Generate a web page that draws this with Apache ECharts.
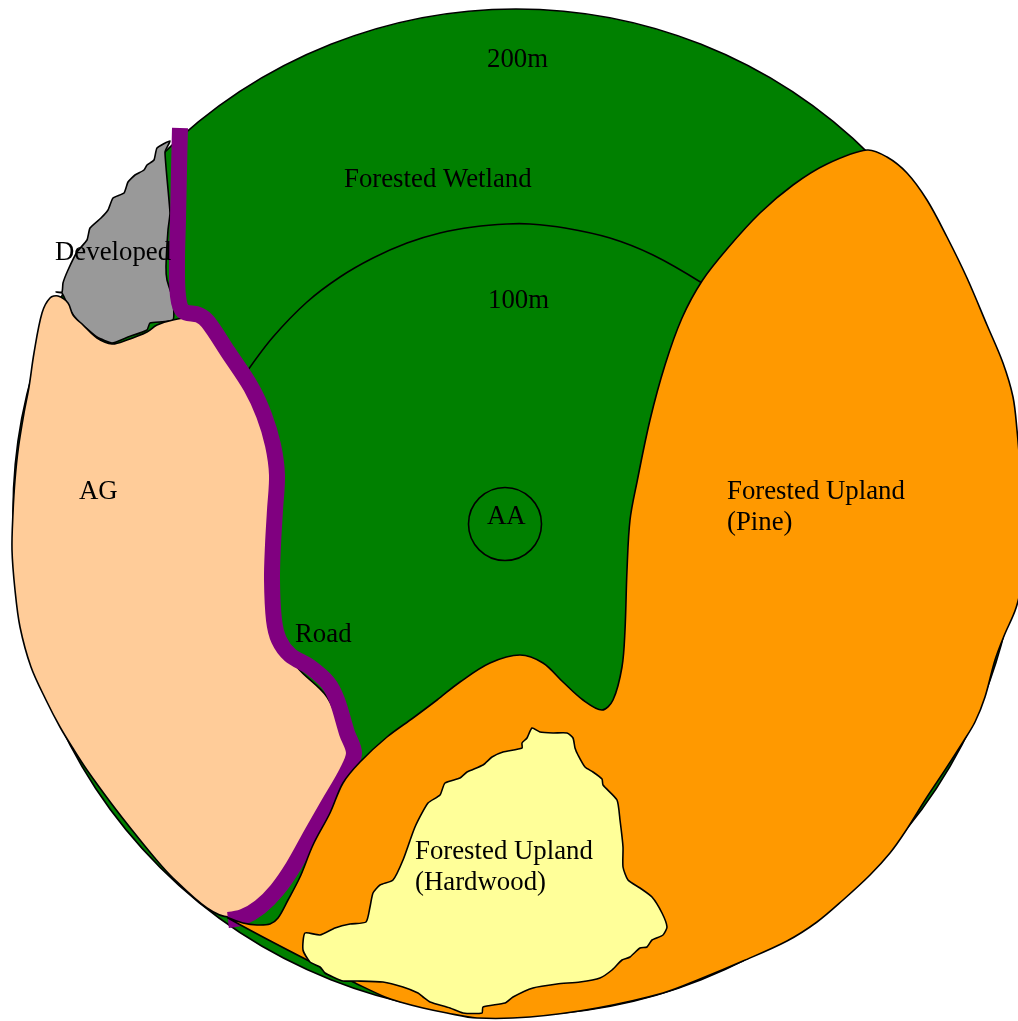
<!DOCTYPE html>
<html>
<head>
<meta charset="utf-8">
<title>Land use around AA</title>
<script src="https://cdn.jsdelivr.net/npm/echarts@6/dist/echarts.min.js"></script>
<style>
  html, body { margin: 0; padding: 0; background: #fff; }
  #chart { width: 1018px; height: 1021px; }
</style>
</head>
<body>
<div id="chart"></div>
<script>
// outlines, [x, y] in picture units
const outerCircle = [516, 512, 503]
const aaCircle = [505, 524, 36.5]

const arc100m = [[248, 370], [273, 337], [307, 302], [340, 277], [373, 258], [407, 243], [440, 233], [473, 227], [507, 224], [530, 224], [565, 228], [610, 238], [653, 255], [702, 283]]

const road = [[180, 128], [179, 170], [178, 220], [177, 260], [178, 296], [183, 311], [199, 315], [208, 322], [228, 352], [251, 387], [264, 415], [273, 445], [277, 475], [275, 510], [273, 545], [272, 580], [274, 620], [279, 640], [290, 655], [310, 667], [328, 683], [337, 700], [347, 733], [354, 753], [347, 772], [328, 805], [312, 833], [293, 867], [277, 890], [260, 907], [243, 917], [228, 920]]

const pine = [[867, 150], [887, 157], [907, 173], [927, 200], [947, 237], [967, 278], [987, 325], [1003, 363], [1013, 397], [1017, 430], [1021, 480], [1024, 540], [1022, 580], [1016, 608], [1004, 636], [995, 660], [985, 697], [975, 722], [963, 742], [945, 770], [927, 797], [905, 832], [890, 853], [870, 875], [843, 900], [817, 922], [787, 941], [743, 961], [700, 979], [663, 993], [597, 1008], [530, 1017], [477, 1018], [447, 1013], [423, 1008], [400, 1002], [385, 997], [353, 982], [313, 963], [228, 918], [243, 923], [257, 925], [270, 924], [278, 918], [288, 900], [300, 877], [313, 845], [330, 813], [343, 783], [360, 762], [387, 737], [413, 718], [437, 700], [460, 682], [490, 663], [520, 655], [543, 663], [563, 682], [583, 700], [602, 710], [613, 700], [622, 667], [625, 630], [627, 570], [630, 520], [637, 482], [650, 420], [665, 365], [682, 318], [702, 281], [727, 249], [760, 213], [793, 185], [827, 164]]

const hardwood = [[532, 728], [540, 732], [553, 733], [567, 733], [573, 738], [575, 748], [578, 755], [585, 767], [593, 772], [602, 779], [603, 785], [617, 800], [620, 820], [623, 847], [623, 867], [628, 880], [640, 888], [652, 897], [662, 913], [667, 927], [663, 935], [652, 940], [647, 947], [640, 948], [630, 957], [622, 960], [612, 970], [600, 978], [580, 982], [557, 984], [533, 988], [513, 997], [505, 1003], [483, 1007], [482, 1013], [463, 1013], [450, 1008], [430, 1002], [423, 997], [418, 993], [403, 987], [383, 982], [357, 981], [343, 981], [333, 977], [325, 973], [320, 967], [310, 962], [303, 950], [305, 933], [320, 935], [335, 928], [350, 924], [366, 922], [370, 907], [373, 893], [380, 885], [393, 880], [403, 860], [415, 827], [428, 803], [440, 795], [445, 783], [460, 778], [467, 772], [483, 765], [492, 757], [503, 752], [522, 748], [522, 743], [527, 738]]

const developed = [[170, 141], [157, 148], [154, 160], [147, 165], [144, 170], [135, 175], [128, 182], [124, 193], [113, 198], [108, 210], [101, 218], [90, 228], [87, 240], [77, 252], [68, 270], [63, 283], [62, 292], [56, 292], [62, 293], [70, 310], [77, 320], [85, 327], [97, 337], [112, 343], [128, 337], [147, 330], [150, 323], [173, 320], [173, 300], [167, 280], [166, 267], [168, 230], [170, 213], [165, 152]]

const ag = [[58, 296], [68, 303], [73, 315], [83, 325], [97, 338], [112, 344], [127, 340], [147, 332], [157, 325], [173, 320], [190, 318], [205, 325], [228, 355], [250, 390], [264, 425], [272, 470], [270, 540], [269, 590], [275, 630], [297, 667], [327, 697], [343, 735], [350, 760], [340, 785], [310, 835], [285, 875], [258, 905], [230, 917], [207, 908], [173, 878], [154, 857], [132, 830], [111, 803], [87, 770], [74, 750], [60, 727], [46, 700], [31, 667], [20, 627], [15, 590], [12, 550], [13, 513], [15, 480], [18.5, 447], [24, 413], [29, 387], [34, 353], [42, 313], [50, 298]]

const labelNames = ['200m', 'Forested Wetland', '100m', 'Developed', 'AG', 'AA', 'Road', 'Forested Upland\n(Pine)', 'Forested Upland\n(Hardwood)']
const labelX = [487, 344, 488, 55, 79, 487, 295, 727, 415]
const labelY = [60, 180, 301, 253, 492, 517, 635, 507, 867]

const lineColor = '#000'
const lineWidth = 1.6
const chart = echarts.init(document.getElementById('chart'))

// one closed region, drawn through the axes
function regionSeries (name, points, color, smooth) {
  return {
    name: name,
    type: 'custom',
    silent: true,
    data: [0],
    renderItem (params, api) {
      return {
        type: 'polygon',
        shape: { points: points.map(p => api.coord(p)), smooth: smooth },
        style: { fill: color, stroke: lineColor, lineWidth: lineWidth, lineJoin: 'round' }
      }
    }
  }
}

function lineSeries (name, points, color, width, smooth) {
  return {
    name: name,
    type: 'custom',
    silent: true,
    data: [0],
    renderItem (params, api) {
      return {
        type: 'polyline',
        shape: { points: points.map(p => api.coord(p)), smooth: smooth },
        style: { fill: null, stroke: color, lineWidth: width, lineCap: 'butt', lineJoin: 'round' }
      }
    }
  }
}

function circleSeries (name, circle, color) {
  return {
    name: name,
    type: 'custom',
    silent: true,
    data: [0],
    renderItem (params, api) {
      const c = api.coord([circle[0], circle[1]])
      return {
        type: 'circle',
        shape: { cx: c[0], cy: c[1], r: api.size([circle[2], 0])[0] },
        style: { fill: color, stroke: lineColor, lineWidth: lineWidth }
      }
    }
  }
}

const option = {
  animation: false,
  backgroundColor: '#fff',
  grid: { left: 0, right: 0, top: 0, bottom: 0 },
  xAxis: { type: 'value', min: 0, max: 1018, show: false },
  yAxis: { type: 'value', min: 0, max: 1021, inverse: true, show: false },
  series: [
    circleSeries('Forested Wetland', outerCircle, '#008000'),
    lineSeries('100m', arc100m, lineColor, lineWidth, 0.33),
    circleSeries('AA', aaCircle, 'transparent'),
    regionSeries('Developed', developed, '#999999', 0.15),
    regionSeries('AG', ag, '#FFCC99', 0.33),
    lineSeries('Road', road, '#800080', 16, 0.33),
    regionSeries('Forested Upland (Pine)', pine, '#FF9900', 0.33),
    regionSeries('Forested Upland (Hardwood)', hardwood, '#FFFF99', 0.2),
    {
      name: 'labels',
      type: 'custom',
      silent: true,
      data: labelNames.map((n, i) => [labelX[i], labelY[i], n]),
      renderItem (params, api) {
        const c = api.coord([api.value(0), api.value(1)])
        return {
          type: 'text',
          x: c[0],
          y: c[1],
          style: {
            text: labelNames[params.dataIndex],
            fill: '#000',
            font: '26.8px "Liberation Serif"',
            lineHeight: 31,
            verticalAlign: 'middle',
            align: 'left'
          }
        }
      }
    }
  ]
}

chart.setOption(option)
window.addEventListener('resize', () => {
  chart.resize()
})
</script>
</body>
</html>
